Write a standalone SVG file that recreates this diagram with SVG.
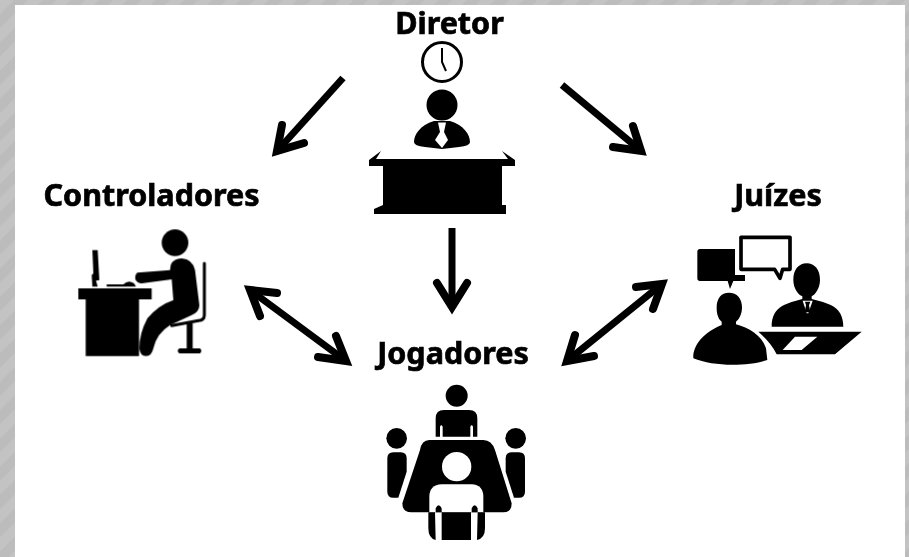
<svg xmlns="http://www.w3.org/2000/svg" width="909" height="557" viewBox="0 0 909 557">
<style>
.t{font-family:"Noto Sans","DejaVu Sans",sans-serif;font-weight:700;font-size:30.500px;fill:#000;stroke:#000;stroke-width:.7}
.l{fill:none;stroke:#000;stroke-width:7;stroke-linecap:butt}
.h{fill:none;stroke:#000;stroke-width:8;stroke-linecap:round;stroke-linejoin:miter;stroke-miterlimit:6}
.w{fill:#fff}
</style>
<defs>
<pattern id="g" width="20" height="20" patternUnits="userSpaceOnUse" patternTransform="rotate(45)">
<rect width="20" height="20" fill="#bcbcbc"/><rect width="10" height="20" fill="#c3c3c3"/>
</pattern>
<filter id="b" x="-5%" y="-5%" width="110%" height="110%"><feGaussianBlur stdDeviation="0.6"/></filter>
</defs>
<rect width="909" height="557" fill="url(#g)"/>
<rect x="15" y="5" width="890" height="552" fill="#fff"/>
<g id="connectors" filter="url(#b)">
<path class="l" d="M343 78 278 150"/><path class="h" d="M282 125 277 151 304 143"/>
<path class="l" d="M562 85 640 150"/><path class="h" d="M633 126 641 151 613 147"/>
<path class="l" d="M452 228V306"/><path class="h" d="M437 283 452 307 467 283"/>
<path class="l" d="M250 290 346 361"/><path class="h" d="M260 316 250 290 277 293"/><path class="h" d="M336 336 346 361 318 357"/>
<path class="l" d="M567 361 662 284"/><path class="h" d="M636 287 662 284 653 309"/><path class="h" d="M575 335 567 361 594 356"/>
</g>
<g id="diretor" filter="url(#b)">
<text class="t" x="449.500" y="34" text-anchor="middle">Diretor</text>
<circle cx="442" cy="62" r="19.500" fill="#fff" stroke="#000" stroke-width="3"/>
<path d="M442 48V62L446 71" fill="none" stroke="#000" stroke-width="2"/>
<circle cx="442" cy="105" r="15.500"/>
<path d="M434 121C420 125 414 135 414 142Q414 146 425 147L442 149 459 147Q470 146 470 142C470 135 464 125 450 121Z"/>
<path class="w" d="M438 122.500H446L444 132 448 140 442 148 435 140 440 132Z"/>
<path d="M369 160 381 151 376 159H508L502 151 515 160V166H502V205H506V214H374V209L383 205V166H369Z"/>
</g>
<g id="controladores" filter="url(#b)">
<text class="t" x="151.500" y="206" text-anchor="middle">Controladores</text>
<g transform="translate(60 220) scale(.33333)">
<circle cx="345" cy="68" r="40"/>
<path d="M97 90H113L118 180 108 182 113 200H97L95 165 100 160Z"/>
<path d="M140 193H190Q205 178 222 190L228 200H140Z"/>
<path d="M55 205H275V238H237V408H77V238H55Z"/>
<path d="M232 158Q224 165 226 178 232 190 245 190L335 178 340 240Q295 255 262 295 238 340 238 385 240 408 258 408 275 408 280 385 290 340 330 315L395 285Q418 275 418 255L405 150Q398 118 365 115 340 115 332 135L330 150Z"/>
<path d="M433 130V285Q433 300 415 302L335 317" fill="none" stroke="#000" stroke-width="9" stroke-linecap="round"/>
<path d="M380 310H398V385H420Q428 392 420 400H358Q348 392 358 385H380Z"/>
</g>
</g>
<g id="juizes" filter="url(#b)">
<text class="t" x="778" y="206" text-anchor="middle">Juízes</text>
<g transform="translate(680 225) scale(.33333)">
<path d="M60 72H165V150H195V168H160L150 192 143 168H60Q52 168 52 160V80Q52 72 60 72Z"/>
<path d="M183 37H330V133H308L300 160 284 133H183Z" fill="#fff" stroke="#000" stroke-width="11" stroke-linejoin="round"/>
<path d="M147 203C172 203 187 222 186 250 185 270 176 285 168 290V298C205 308 245 330 258 370L262 405C200 425 100 425 40 400 38 365 65 325 125 300V290C117 285 110 270 110 250 109 222 122 203 147 203Z"/>
<path d="M380 115C405 115 420 135 420 165 420 190 405 210 395 214V222C440 235 490 240 490 305H275C275 240 325 235 367 222V214C355 210 340 190 340 165 340 135 355 115 380 115Z"/>
<path class="w" d="M368 227H398L385 265 380 265Z"/>
<path d="M375 230H391L387 241 391 262H374L378 241Z"/>
<path d="M235 320H545L465 388H290Q275 355 235 320Z"/>
<path class="w" d="M345 335H412L365 375H308Z"/>
</g>
</g>
<g id="jogadores" filter="url(#b)">
<text class="t" x="453" y="364" text-anchor="middle">Jogadores</text>
<g transform="translate(370 375) scale(.33333)">
<circle cx="260" cy="62" r="33"/>
<path d="M197 185V130Q197 105 222 105H297Q322 105 322 130V185H309V155Q305 147 301 155V185H218V155Q214 147 210 155V185Z"/>
<circle cx="80" cy="190" r="31"/><circle cx="437" cy="190" r="31"/>
<path d="M52 250Q52 232 70 232H92Q110 232 110 250V290L85 368H70Q52 368 52 350Z"/>
<path d="M465 250Q465 232 447 232H425Q407 232 407 250V290L432 368H447Q465 368 465 350Z"/>
<path d="M178 195H340Q365 195 375 225L425 385Q425 412 400 412H125Q97 412 97 385L150 225Q155 195 178 195Z"/>
<circle cx="260" cy="275" r="44" class="w"/>
<path class="w" d="M178 412V365Q178 330 215 328H305Q340 330 340 365V412Z"/>
<path d="M197 412V400Q206 382 215 400V412ZM305 412V400Q314 382 323 400V412Z"/>
<path d="M175 412H195L197 495Q175 490 175 460ZM215 412H303V495H215ZM323 412H345V460Q345 490 321 495Z"/>
</g>
</g>
</svg>
